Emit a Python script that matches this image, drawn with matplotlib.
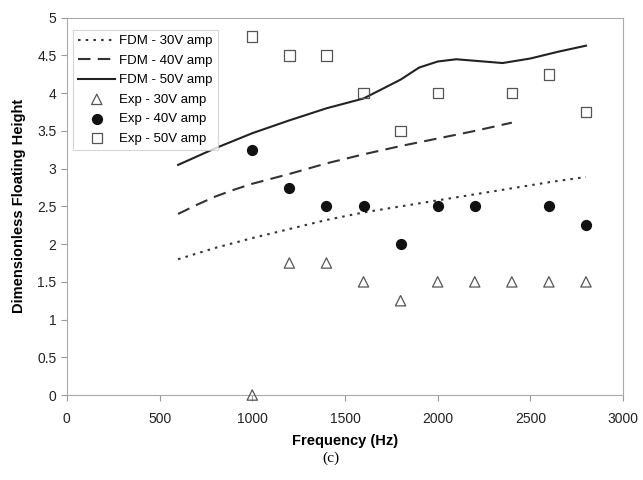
import matplotlib
matplotlib.use("Agg")
import matplotlib.pyplot as plt

plt.rcParams['font.family'] = ['Liberation Sans', 'DejaVu Sans']

# FDM model curves
fdm30_x = [600, 800, 1000, 1200, 1400, 1600, 1800, 2000, 2200, 2400, 2600, 2800]
fdm30_y = [1.80, 1.95, 2.08, 2.20, 2.32, 2.42, 2.50, 2.58, 2.66, 2.74, 2.82, 2.89]

fdm40_x = [600, 700, 800, 900, 1000, 1200, 1400, 1600, 1800, 2000, 2200, 2400]
fdm40_y = [2.40, 2.52, 2.63, 2.72, 2.80, 2.93, 3.07, 3.19, 3.30, 3.40, 3.50, 3.61]

fdm50_x = [600, 800, 1000, 1200, 1400, 1600, 1800, 1900, 2000, 2100, 2200, 2350, 2500, 2650, 2800]
fdm50_y = [3.05, 3.27, 3.47, 3.64, 3.80, 3.93, 4.18, 4.34, 4.42, 4.45, 4.43, 4.40, 4.46, 4.55, 4.63]

# experimental points
exp30_x = [1000, 1200, 1400, 1600, 1800, 2000, 2200, 2400, 2600, 2800]
exp30_y = [0, 1.75, 1.75, 1.5, 1.25, 1.5, 1.5, 1.5, 1.5, 1.5]

exp40_x = [1000, 1200, 1400, 1600, 1800, 2000, 2200, 2600, 2800]
exp40_y = [3.25, 2.75, 2.5, 2.5, 2.0, 2.5, 2.5, 2.5, 2.25]

exp50_x = [1000, 1200, 1400, 1600, 1800, 2000, 2400, 2600, 2800]
exp50_y = [4.75, 4.5, 4.5, 4.0, 3.5, 4.0, 4.0, 4.25, 3.75]

fig = plt.figure(figsize=(6.43, 4.8), dpi=100)
ax = fig.add_axes([0.104, 0.177, 0.865, 0.786])

ax.plot(fdm30_x, fdm30_y, color='#333333', lw=1.5, linestyle=(0, (1.2, 2.5)), label='FDM - 30V amp')
ax.plot(fdm40_x, fdm40_y, color='#333333', lw=1.5, linestyle=(0, (6, 3.5)), label='FDM - 40V amp')
ax.plot(fdm50_x, fdm50_y, color='#222222', lw=1.5, label='FDM - 50V amp')
ax.scatter(exp30_x, exp30_y, marker='^', s=55, facecolors='none', edgecolors='#555555', linewidths=0.9,
           label='Exp - 30V amp', clip_on=False, zorder=3)
ax.scatter(exp40_x, exp40_y, marker='o', s=50, color='#111111', label='Exp - 40V amp', zorder=3)
ax.scatter(exp50_x, exp50_y, marker='s', s=55, facecolors='none', edgecolors='#555555', linewidths=0.9,
           label='Exp - 50V amp', zorder=3)

ax.set_xlim(0, 3000)
ax.set_ylim(0, 5)
ax.set_xticks(range(0, 3001, 500))
ax.set_yticks([0, 0.5, 1, 1.5, 2, 2.5, 3, 3.5, 4, 4.5, 5])
ax.set_yticklabels(['0', '0.5', '1', '1.5', '2', '2.5', '3', '3.5', '4', '4.5', '5'])
ax.tick_params(colors='#999999', labelcolor='#222222', labelsize=10, length=4, width=0.8)
ax.tick_params(axis='x', pad=8)
for s in ax.spines.values():
    s.set_color('#aaaaaa')

ax.set_xlabel('Frequency (Hz)', fontweight='bold', fontsize=10.5, labelpad=6)
ax.set_ylabel('Dimensionless Floating Height', fontweight='bold', fontsize=10.5, labelpad=8)

leg = ax.legend(loc='upper left', bbox_to_anchor=(0.011, 0.968), fontsize=9.5, frameon=True,
                fancybox=False, handlelength=2.8, handletextpad=0.3, borderpad=0.4,
                labelspacing=0.55, borderaxespad=0)
leg.get_frame().set_edgecolor('#cccccc')
leg.get_frame().set_linewidth(0.8)

fig.text(0.515, 0.037, '(c)', ha='center', fontsize=11, family='Liberation Serif')

fig.savefig('out.png', dpi=100)
